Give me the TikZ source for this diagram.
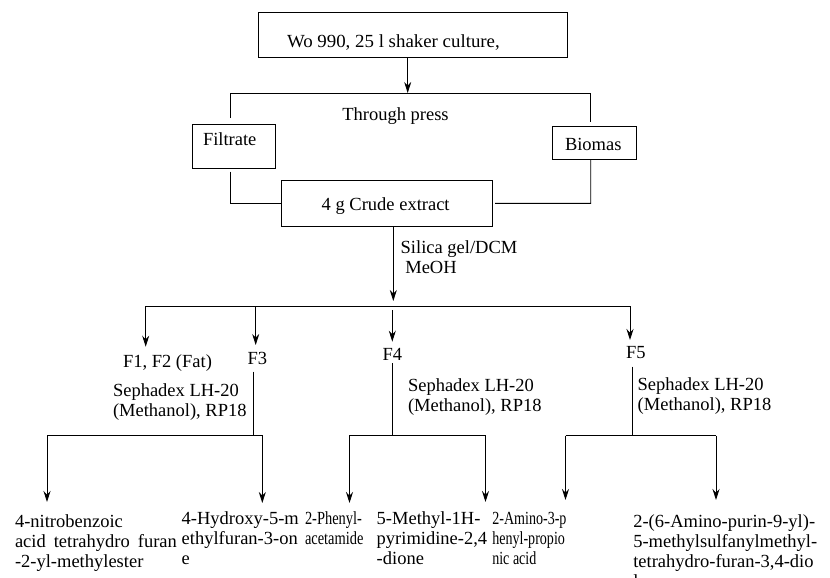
\documentclass[tikz,border=0pt]{standalone}
\usepackage{fontspec}
\setmainfont{Liberation Serif}
\usetikzlibrary{arrows.meta}
\newcommand{\mlines}[1]{\begin{tabular}[t]{@{}l@{}}#1\end{tabular}}
\begin{document}
\begin{tikzpicture}[x=1pt,y=-1pt,
  every node/.style={font=\fontsize{18.5}{20}\selectfont, inner sep=0pt, outer sep=0pt},
  boxst/.style={draw, line width=0.9pt, anchor=north west},
  txt/.style={anchor=base west},
  ln/.style={line width=0.9pt},
  arr/.style={line width=0.9pt, -{Stealth[length=11pt,width=7pt]}},
]
\useasboundingbox (0,0) rectangle (830,578);

% boxes
\node[boxst, minimum width=309pt, minimum height=44.6pt] (cult) at (258,12.7) {};
\node[txt] (cultt) at (287,48) {\scalebox{1.02}[1]{Wo 990, 25 l shaker culture,}};
\node[boxst, minimum width=83pt, minimum height=44pt] (filt) at (192.7,124.3) {};
\node[txt] (filtt) at (203,145) {Filtrate};
\node[boxst, minimum width=84.4pt, minimum height=32.6pt] (biom) at (552.3,126.7) {};
\node[txt] (biomt) at (565,150) {Biomas};
\node[txt] (thru) at (342.3,120) {Through press};
\node[boxst, minimum width=210.6pt, minimum height=46.7pt] (crude) at (281.7,180) {};
\node[txt] (crudet) at (321.7,210) {4 g Crude extract};
\node[txt] (sil) at (400.7,253.3) {\mlines{Silica gel/DCM\\\hspace{4.6pt}MeOH}};

% fraction labels
\node[txt] (f12) at (123,367) {F1, F2 (Fat)};
\node[txt] (f3) at (247.7,364) {F3};
\node[txt, anchor=base] (f4) at (392.3,360) {F4};
\node[txt] (f5) at (626,358.3) {F5};
\node[txt] (sep3) at (113,396.7) {\mlines{Sephadex LH-20\\(Methanol), RP18}};
\node[txt] (sep4) at (408,391.7) {\mlines{Sephadex LH-20\\(Methanol), RP18}};
\node[txt] (sep5) at (637.7,390) {\mlines{Sephadex LH-20\\(Methanol), RP18}};

% products
\node[txt] (p1) at (15,527) {\mlines{4-nitrobenzoic\\acid\hspace{8pt}tetrahydro\hspace{8pt}furan\\-2-yl-methylester}};
\node[txt] (p2) at (181.7,524) {\mlines{4-Hydroxy-5-m\\ethylfuran-3-on\\e}};
\node[txt] (p3) at (305,524) {\scalebox{0.78}[1]{\mlines{2-Phenyl-\\acetamide}}};
\node[txt] (p4) at (376.7,524) {\mlines{5-Methyl-1H-\\pyrimidine-2,4\\-dione}};
\node[txt] (p5) at (492.3,524) {\scalebox{0.76}[1]{\mlines{2-Amino-3-p\\henyl-propio\\nic acid}}};
\node[txt] (p6) at (633.3,527) {\mlines{2-(6-Amino-purin-9-yl)-\\5-methylsulfanylmethyl-\\tetrahydro-furan-3,4-dio\\l}};

% coordinates
\coordinate (j0) at (407.7,93);
\coordinate (jl) at (230.7,93);
\coordinate (jr) at (590.7,93);
\coordinate (jl2) at (230.7,118);
\coordinate (jr2) at (590.7,121.7);
\coordinate (fl) at (230.7,171.7);
\coordinate (bl) at (590.7,159.3);
\coordinate (ce) at (495,203.3);
\coordinate (m0) at (393.3,301);
\coordinate (mx) at (393.3,226.7);
\coordinate (ma) at (145.7,306);
\coordinate (mb) at (255.7,306);
\coordinate (mc) at (392.3,310);
\coordinate (md) at (630,306);
\coordinate (ta) at (145.7,346.7);
\coordinate (tb) at (255.7,345);
\coordinate (tc) at (392.3,341.7);
\coordinate (td) at (630,340);
\coordinate (s3) at (253.5,371.7);
\coordinate (s3b) at (253.5,435);
\coordinate (s4) at (392.3,363);
\coordinate (s4b) at (392.3,435);
\coordinate (s5) at (632.3,366.7);
\coordinate (s5b) at (632.3,435.5);
\coordinate (a1) at (47,435);
\coordinate (a2) at (262.3,435);
\coordinate (b1) at (349.5,435);
\coordinate (b2) at (485.5,435);
\coordinate (c1) at (565.5,435.5);
\coordinate (c2) at (716,435.5);
\coordinate (a1t) at (47,502);
\coordinate (a2t) at (262.3,503);
\coordinate (b1t) at (349.5,503);
\coordinate (b2t) at (485.5,502);
\coordinate (c1t) at (565.5,500);
\coordinate (c2t) at (716,500);

% connectors
\draw[arr] (cult.south -| j0) -- (j0);
\draw[ln] (jl2) -- (jl) -- (jr) -- (jr2);
\draw[ln] (fl) -- (fl |- crude.west) -- (crude.west);
\draw[ln] (bl) -- (bl |- crude.east) -- (ce);
\draw[arr] (crude.south -| mx) -- (m0);
\draw[ln] (ma) -- (md);
\draw[arr] (ma) -- (ta);
\draw[arr] (mb) -- (tb);
\draw[arr] (mc) -- (tc);
\draw[arr] (md) -- (td);
\draw[ln] (s3) -- (s3b);
\draw[ln] (s4) -- (s4b);
\draw[ln] (s5) -- (s5b);
\draw[ln] (a1) -- (a2);
\draw[ln] (b1) -- (b2);
\draw[ln] (c1) -- (c2);
\draw[arr] (a1) -- (a1t);
\draw[arr] (a2) -- (a2t);
\draw[arr] (b1) -- (b1t);
\draw[arr] (b2) -- (b2t);
\draw[arr] (c1) -- (c1t);
\draw[arr] (c2) -- (c2t);
\end{tikzpicture}
\end{document}
